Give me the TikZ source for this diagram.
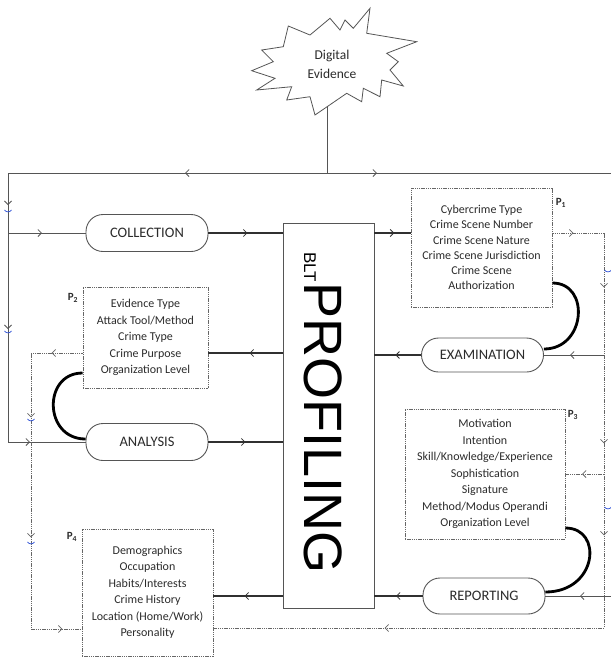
\documentclass[tikz,border=0pt]{standalone}
\usepackage{fontspec}
\setmainfont{Carlito}
\newfontfamily\bltfont{Liberation Sans}
\usetikzlibrary{arrows.meta,decorations.markings,calc}

\definecolor{ink}{HTML}{2B2B2B}
\definecolor{wire}{HTML}{555555}
\definecolor{dashc}{HTML}{666666}
\definecolor{heavy}{HTML}{303030}
\definecolor{pin}{HTML}{3A5BD9}

\tikzset{
  chev/.tip={Straight Barb[length=3.5pt,width=7pt,line width=0.8pt]},
  arrows at/.style={postaction={decorate,decoration={markings,
      mark=at position #1 with {\arrow{chev}}}}},
  wireline/.style={draw=wire, line width=0.9pt},
  heavyline/.style={draw=heavy, line width=2.6pt},
  dashline/.style={draw=dashc, line width=0.9pt, dash pattern=on 1.4pt off 0.8pt},
  loopline/.style={draw=black, line width=2.8pt},
  capsule/.style={draw=wire, line width=0.9pt, fill=white, rounded corners=17pt,
      minimum width=122pt, minimum height=37pt, inner sep=0pt, text=ink,
      font=\fontsize{14.5}{16}\selectfont},
  pbox/.style={draw=dashc, line width=0.9pt, dash pattern=on 1.4pt off 0.8pt,
      align=center, inner sep=0pt, text=ink,
      font=\fontsize{12}{16.5}\selectfont},
  plabel/.style={inner sep=0pt, text=ink, font=\bfseries\fontsize{11}{11}\selectfont},
  bltbox/.style={draw=wire, line width=0.9pt, fill=white, inner sep=0pt,
      minimum width=91pt, minimum height=385pt},
  pinmark/.style={draw=pin, line width=0.8pt}
}

\begin{document}
\begin{tikzpicture}[x=1pt,y=-1pt]
\useasboundingbox (0,0) rectangle (611,657);

% ---------- the evidence burst and its feed ----------
\coordinate (evb) at (327,100);
\coordinate (top) at (327,173);
\coordinate (tl) at (8,173);
\coordinate (tr) at (611,173);
\coordinate (bl) at (8,442);
\coordinate (lc) at (8,233);
\draw[wireline] (evb) -- (top);
\draw[draw=wire, line width=0.8pt, fill=white, line join=miter]
  (370,8.3) -- (366.7,33.3) -- (416.7,41.7) -- (386.7,53.3) -- (398.3,61.7)
  -- (390,70) -- (403.3,86) -- (381.7,80) -- (380,96.7) -- (363.3,88.3)
  -- (361.7,101.7) -- (346.7,93.3) -- (315,115) -- (310,96.7) -- (286.7,100)
  -- (291.7,86.7) -- (256.7,90) -- (275,78.3) -- (251.7,70.7) -- (273.3,61.7)
  -- (261.7,50) -- (283.3,46.7) -- (288.3,26) -- (310,35) -- (330,18.3)
  -- (340,30) -- (345,20) -- (353.3,28.3) -- cycle;
\node[align=center, text=ink, inner sep=0pt, font=\fontsize{13.5}{19}\selectfont]
  (ev) at (332,64) {Digital\\Evidence};

% ---------- central profiling block ----------
\node[bltbox] (blt) at (328.5,415.5) {};
\node[rotate=-90, anchor=base west, inner sep=0pt, text=black] (bltlabel) at (304,252)
  {\bltfont\fontsize{17}{17}\selectfont BLT\fontsize{54}{54}\selectfont PROFILING};

% ---------- process steps ----------
\node[capsule] (coll) at (147,233) {COLLECTION};
\node[capsule, minimum height=34pt] (exam) at (482.5,355) {EXAMINATION};
\node[capsule] (anal) at (147,442) {ANALYSIS};
\node[capsule, minimum height=36pt] (rep) at (484,596) {REPORTING};

% ---------- profile attribute sets ----------
\node[pbox, minimum width=141pt, minimum height=119pt,
      font=\fontsize{12}{15.2}\selectfont] (p1) at (481.5,247.5)
  {Cybercrime Type\\Crime Scene Number\\Crime Scene Nature\\Crime Scene Jurisdiction\\Crime Scene\\Authorization};
\node[pbox, minimum width=125pt, minimum height=101pt] (p2) at (145.5,337.5)
  {Evidence Type\\Attack Tool/Method\\Crime Type\\Crime Purpose\\Organization Level};
\node[pbox, minimum width=160pt, minimum height=130pt] (p3) at (485,474)
  {Motivation\\Intention\\Skill/Knowledge/Experience\\Sophistication\\Signature\\Method/Modus Operandi\\Organization Level};
\node[pbox, minimum width=131pt, minimum height=127pt] (p4) at (147.5,592.5)
  {Demographics\\Occupation\\Habits/Interests\\Crime History\\Location (Home/Work)\\Personality};

\node[plabel] (p1l) at (561,203) {P\textsubscript{1}};
\node[plabel] (p2l) at (73,298) {P\textsubscript{2}};
\node[plabel] (p3l) at (573,415) {P\textsubscript{3}};
\node[plabel] (p4l) at (72,537) {P\textsubscript{4}};

% ---------- evidence distribution (left loop) ----------
\draw[wireline, arrows at=142pt] (top) -- (tl);
\draw[wireline, arrows at=50pt] (top) -- (tr);
\draw[wireline, arrows at=32pt, arrows at=156pt] (tl) -- (bl);
\draw[wireline, arrows at=34pt] (lc) -- (coll.west);
\draw[wireline, arrows at=22pt] (bl) -- (anal.west);

% ---------- steps to and from the profiling block ----------
\coordinate (y2) at (0,353);
\draw[heavyline, arrows at=39pt] (coll.east) -- (coll.east -| blt.west);
\draw[heavyline, arrows at=0.55] (coll.east -| blt.east) -- (coll.east -| p1.west);
\draw[heavyline, arrows at=0.55] (exam.west) -- (exam.west -| blt.east);
\draw[heavyline, arrows at=33pt] (blt.west |- y2) -- (p2.east |- y2);
\draw[heavyline, arrows at=37pt] (anal.east) -- (anal.east -| blt.west);
\draw[heavyline, arrows at=0.55] (rep.west) -- (rep.west -| blt.east);
\draw[heavyline, arrows at=38pt] (blt.west |- rep.west) -- (p4.east |- rep.west);

% ---------- right-hand return paths ----------
\coordinate (rt) at (604,233);
\coordinate (rb) at (604,628);
\coordinate (re) at (611,596);
\draw[dashline, arrows at=21pt, arrows at=106pt, arrows at=262pt, arrows at=354pt,
      arrows at=666pt] (p1.east |- rt) -- (rt) -- (rb) -- (p4.east |- rb);
\draw[wireline, arrows at=34pt] (exam.east -| rt) -- (exam.east);
\draw[dashline, arrows at=22pt] (p3.east -| rt) -- (p3.east);
\draw[wireline, arrows at=31pt] (re) -- (rep.east);

% ---------- left-hand dashed path ----------
\coordinate (lt) at (31,353);
\coordinate (lb) at (31,629);
\draw[dashline, arrows at=31pt, arrows at=116pt, arrows at=236pt, arrows at=359pt]
  (p2.west |- lt) -- (lt) -- (lb) -- (p4.west |- lb);

% ---------- attribute sets feeding the steps ----------
\coordinate (a1) at (0,283);
\coordinate (a2) at (0,373);
\coordinate (a3) at (0,528);
\draw[loopline] (p1.east |- a1) .. controls +(38,0) and +(42,0) .. ([yshift=6pt]exam.east);
\draw[loopline] (p2.west |- a2) .. controls +(-40,0) and +(-42,0) .. ([yshift=3pt]anal.west);
\draw[loopline] (p3.east |- a3) .. controls +(38,0) and +(52,0) .. ([yshift=4pt]rep.east);

% ---------- small connection pins ----------
\foreach \px/\py in {8/210, 8/331, 31/419, 31/542, 608/270, 608/507}
  \draw[pinmark] (\px-3.5,\py) .. controls (\px-1.5,\py+2.5) and (\px+1.5,\py+2.5) .. (\px+3.5,\py);
\end{tikzpicture}
\end{document}
